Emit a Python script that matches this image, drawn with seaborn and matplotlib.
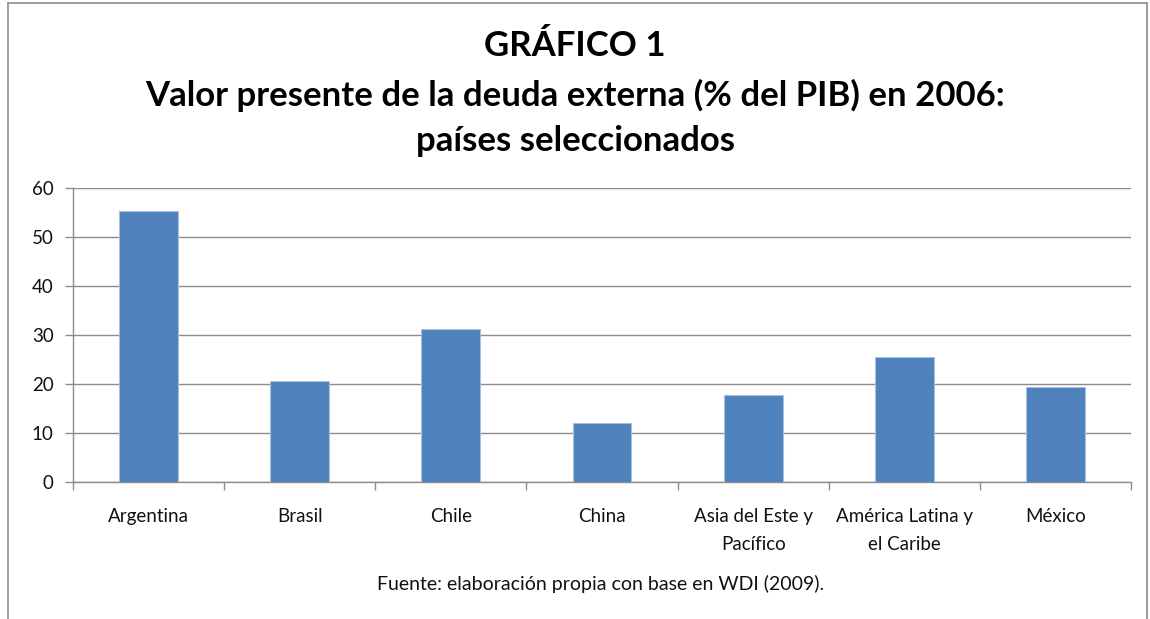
import matplotlib
matplotlib.use("Agg")
import matplotlib.pyplot as plt
import seaborn as sns
import pandas as pd
from matplotlib.lines import Line2D

# datos
paises = ["Argentina", "Brasil", "Chile", "China", "Asia del Este y\nPacífico",
          "América Latina y\nel Caribe", "México"]
deuda = [55.4, 20.7, 31.2, 12.1, 17.7, 25.6, 19.3]

titulo = ["GRÁFICO 1", "Valor presente de la deuda externa (% del PIB) en 2006:",
          "países seleccionados"]
fuente = "Fuente: elaboración propia con base en WDI (2009)."

sns.set_theme(style="white")
plt.rcParams["font.family"] = ["Lato", "DejaVu Sans"]

df = pd.DataFrame({"pais": paises, "valor": deuda})

fig = plt.figure(figsize=(11.5, 6.19), dpi=100)
ax = fig.add_axes([0.0635, 0.2213, 0.92, 0.475])

sns.barplot(data=df, x="pais", y="valor", color="#4F81BD", width=0.39,
            saturation=1, edgecolor="#A7C0DE", linewidth=0.8, ax=ax, zorder=3)

ax.set_ylim(0, 60)
ax.set_yticks(range(0, 61, 10))
ax.set_xlim(-0.5, len(paises) - 0.5)
ax.set_xlabel("")
ax.set_ylabel("")
ax.grid(axis="y", color="#8C8C8C", linewidth=1.0, zorder=0)
ax.grid(axis="x", visible=False)

for s in ["top", "right"]:
    ax.spines[s].set_visible(False)
for s in ["left", "bottom"]:
    ax.spines[s].set_color("#8C8C8C")
    ax.spines[s].set_linewidth(1.0)

# ticks estilo Excel: marcas entre categorías
ax.tick_params(axis="x", which="major", length=0, pad=19, labelsize=13.5, labelcolor="#111111")
ax.set_xticks([i - 0.5 for i in range(len(paises) + 1)], minor=True)
ax.tick_params(axis="x", which="minor", length=6, color="#8C8C8C", width=1.0, bottom=True)
ax.tick_params(axis="y", length=6, color="#8C8C8C", width=1.0, left=True, pad=8,
               labelsize=13.5, labelcolor="#111111")
for lab in ax.get_xticklabels():
    lab.set_linespacing(1.75)

for y, linea in zip([0.926, 0.846, 0.773], titulo):
    fig.text(0.5, y, linea, ha="center", va="center", fontsize=25, fontweight="bold",
             color="black")
fig.text(0.5226, 0.056, fuente, ha="center", va="center", fontsize=14, color="#111111")

# marco del área del gráfico
for xs, ys in [([0.007, 0.007], [0.0, 0.995]), ([0.007, 0.997], [0.995, 0.995]),
               ([0.997, 0.997], [0.0, 0.995])]:
    fig.add_artist(Line2D(xs, ys, transform=fig.transFigure, color="#8C8C8C", linewidth=1.2))

fig.savefig("out.png", dpi=100, facecolor="white")
